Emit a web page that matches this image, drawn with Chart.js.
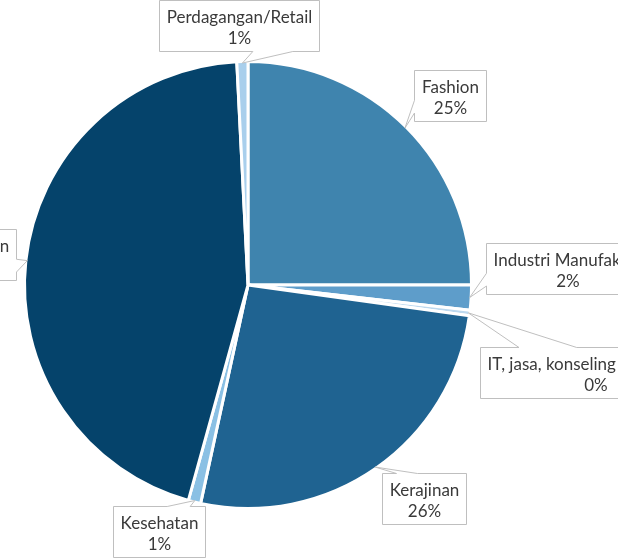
<!DOCTYPE html>
<html><head><meta charset="utf-8">
<script src="https://cdn.jsdelivr.net/npm/chart.js@4/dist/chart.umd.min.js"></script>
<style>html,body{margin:0;padding:0;background:#fff;overflow:hidden}#wrap{width:618px;height:558px;position:relative}</style>
</head><body><div id="wrap"><canvas id="c"></canvas></div>
<script>
// ---- data ----
const categories = ["Fashion", "Industri Manufaktur", "IT, jasa, konseling dan lainnya", "Kerajinan", "Kesehatan", "Makanan dan Minuman", "Perdagangan/Retail"];
const shares = [25, 1.8, 0.4, 26.2, 0.9, 44.9, 0.8];
const sliceColors = ["#3F84AE", "#5E9DCA", "#BCD8EE", "#1F6391", "#8AC0E4", "#05436B", "#A9CFEC"];

// ---- callout placement (relative to the slice tip) ----
const calloutLayout = [
  {anchor: "center", dx: 45,   dy: -32.5, side: "left"},
  {anchor: "left",   dx: 16,   dy: -29.5, side: "left"},
  {anchor: "left",   dx: 12,   dy: 60,    side: "top"},
  {anchor: "center", dx: 49,   dy: 31.5,  side: "top"},
  {anchor: "center", dx: -36,  dy: 31,    side: "top"},
  {anchor: "right",  dx: -11,  dy: -6,    side: "right"},
  {anchor: "center", dx: -3.5, dy: -37.5, side: "bottom"}
];

function drawCallout(ctx, l, t, w, h, tx, ty, side, stroke) {
  l = Math.round(l) + 0.5; t = Math.round(t) + 0.5; w = Math.round(w); h = Math.round(h);
  const r = l + w, b = t + h, cx = l + w / 2, cy = t + h / 2;
  const xa = tx > cx ? l + w * 7 / 12 : l + w * 2 / 12;
  const xb = tx > cx ? l + w * 10 / 12 : l + w * 5 / 12;
  const ya = ty > cy ? t + h * 7 / 12 : t + h * 2 / 12;
  const yb = ty > cy ? t + h * 10 / 12 : t + h * 5 / 12;
  ctx.beginPath();
  ctx.moveTo(l, t);
  if (side === "top") { ctx.lineTo(xa, t); ctx.lineTo(tx, ty); ctx.lineTo(xb, t); }
  ctx.lineTo(r, t);
  if (side === "right") { ctx.lineTo(r, ya); ctx.lineTo(tx, ty); ctx.lineTo(r, yb); }
  ctx.lineTo(r, b);
  if (side === "bottom") { ctx.lineTo(xb, b); ctx.lineTo(tx, ty); ctx.lineTo(xa, b); }
  ctx.lineTo(l, b);
  if (side === "left") { ctx.lineTo(l, yb); ctx.lineTo(tx, ty); ctx.lineTo(l, ya); }
  ctx.closePath();
  ctx.fillStyle = "#ffffff";
  ctx.fill();
  ctx.strokeStyle = stroke;
  ctx.lineWidth = 1;
  ctx.stroke();
}

const calloutPlugin = {
  id: "callouts",
  afterDatasetsDraw(chart, args, opts) {
    const ctx = chart.ctx;
    const meta = chart.getDatasetMeta(0);
    const vals = chart.data.datasets[0].data;
    const total = vals.reduce((a, b) => a + b, 0);
    ctx.save();
    ctx.font = opts.font;
    meta.data.forEach((arc, i) => {
      const p = arc.getProps(["x", "y", "startAngle", "endAngle", "outerRadius"], true);
      const mid = (p.startAngle + p.endAngle) / 2;
      const rr = p.outerRadius - opts.tipInset;
      const tx = p.x + Math.cos(mid) * rr, ty = p.y + Math.sin(mid) * rr;
      const lines = [chart.data.labels[i], Math.round(vals[i] / total * 100) + "%"];
      const tw = Math.max(...lines.map(s => ctx.measureText(s).width));
      const w = tw + 2 * opts.padX, h = lines.length * opts.lineHeight + 2 * opts.padY;
      const L = calloutLayout[i];
      let left;
      if (L.anchor === "left") left = tx + L.dx;
      else if (L.anchor === "right") left = tx + L.dx - w;
      else left = tx + L.dx - w / 2;
      const top = ty + L.dy - h / 2;
      drawCallout(ctx, left, top, w, h, tx, ty, L.side, opts.borderColor);
      ctx.fillStyle = opts.color;
      ctx.textAlign = "center";
      ctx.textBaseline = "alphabetic";
      const cxText = Math.round(left) + 0.5 + Math.round(w) / 2;
      lines.forEach((s, k) => ctx.fillText(s, cxText, Math.round(top) + opts.padY + opts.lineHeight * (k + 1) - opts.descent));
    });
    ctx.restore();
  }
};

new Chart(document.getElementById("c"), {
  type: "pie",
  data: {
    labels: categories,
    datasets: [{
      data: shares,
      backgroundColor: sliceColors,
      borderColor: "#ffffff",
      borderWidth: 3,
      hoverOffset: 0
    }]
  },
  options: {
    responsive: true,
    maintainAspectRatio: false,
    animation: false,
    events: [],
    layout: {padding: {left: 23, top: 60, right: 145, bottom: 48}},
    plugins: {
      legend: {display: false},
      tooltip: {enabled: false},
      callouts: {
        font: "17px Lato",
        color: "#3A3A3A",
        borderColor: "#BFBFBF",
        padX: 7.3, padY: 4, lineHeight: 21.5, descent: 3, tipInset: 1.5
      }
    }
  },
  plugins: [calloutPlugin]
});
</script>
</body></html>
